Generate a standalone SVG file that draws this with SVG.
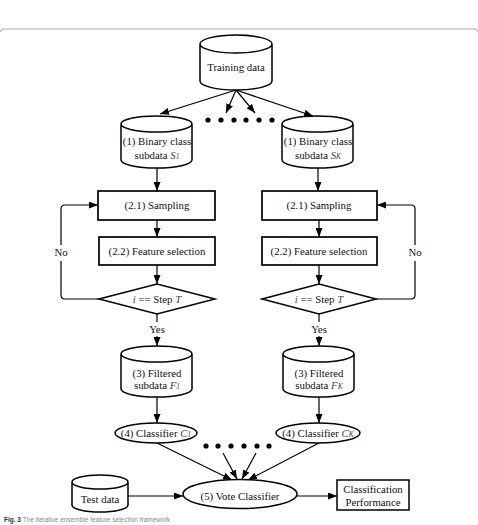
<svg xmlns="http://www.w3.org/2000/svg" width="478" height="525" viewBox="0 0 478 525">
<defs>
<marker id="ah" markerUnits="userSpaceOnUse" markerWidth="9" markerHeight="7" refX="9" refY="3.5" orient="auto">
<path d="M0,0 L9,3.5 L0,7 z" fill="#000"/>
</marker>
<style>
.t{font-family:"Liberation Serif","Times New Roman",serif;font-size:10.8px;fill:#111;text-anchor:middle}
.i{font-style:italic;fill:#444}
.sub{font-size:7.5px;font-style:italic;fill:#444}
.shape{fill:#fff;stroke:#000;stroke-width:1.5}
.box{fill:#fff;stroke:#000;stroke-width:1.7}
.c{fill:none;stroke:#000;stroke-width:1.2}
.ca{fill:none;stroke:#000;stroke-width:1.2;marker-end:url(#ah)}
.dot{fill:#000}
</style>
</defs>
<rect width="478" height="525" fill="#fff"/>
<path d="M0.5,32 Q0.5,29 3,29 L475,29 Q477.5,29 477.5,32" fill="none" stroke="#aaa" stroke-width="1"/>

<g id="connectors">
<line class="ca" x1="236" y1="90" x2="160" y2="114"/>
<line class="ca" x1="236" y1="90" x2="226" y2="113"/>
<line class="ca" x1="236" y1="90" x2="255" y2="113"/>
<line class="ca" x1="236" y1="90" x2="313" y2="116"/>
<line class="ca" x1="157" y1="168" x2="157" y2="191"/>
<line class="ca" x1="318" y1="168" x2="318" y2="191"/>
<line class="ca" x1="157" y1="220" x2="157" y2="237"/>
<line class="ca" x1="319" y1="220" x2="319" y2="237"/>
<line class="ca" x1="157" y1="265" x2="157" y2="284"/>
<line class="ca" x1="319" y1="265" x2="319" y2="284"/>
<path class="c" d="M99,299 L65,299 Q61,299 61,295 L61,261"/>
<path class="ca" d="M61,245 L61,209 Q61,205 65,205 L98,205"/>
<path class="c" d="M376,299 L411,299 Q415,299 415,295 L415,261"/>
<path class="ca" d="M415,245 L415,209 Q415,205 411,205 L377,205"/>
<line class="c" x1="157" y1="314" x2="157" y2="322"/>
<line class="ca" x1="157" y1="336" x2="157" y2="346"/>
<line class="c" x1="319" y1="314" x2="319" y2="322"/>
<line class="ca" x1="319" y1="336" x2="319" y2="346"/>
<line class="ca" x1="157" y1="397" x2="157" y2="423"/>
<line class="ca" x1="319" y1="397" x2="319" y2="423"/>
<line class="ca" x1="157" y1="443" x2="232" y2="480"/>
<line class="ca" x1="223" y1="453" x2="237" y2="479"/>
<line class="ca" x1="256" y1="453" x2="242" y2="479"/>
<line class="ca" x1="319" y1="443" x2="248" y2="480"/>
<line class="ca" x1="128" y1="496" x2="183" y2="496"/>
<line class="ca" x1="297" y1="496" x2="337" y2="496"/>
</g>

<g id="dots-top">
<circle class="dot" cx="208" cy="120" r="2.6"/>
<circle class="dot" cx="221" cy="120" r="2.6"/>
<circle class="dot" cx="234" cy="120" r="2.6"/>
<circle class="dot" cx="246" cy="120" r="2.6"/>
<circle class="dot" cx="259" cy="120" r="2.6"/>
<circle class="dot" cx="272" cy="120" r="2.6"/>
</g>
<g id="dots-bottom">
<circle class="dot" cx="206" cy="446" r="2.6"/>
<circle class="dot" cx="218" cy="446" r="2.6"/>
<circle class="dot" cx="231" cy="446" r="2.6"/>
<circle class="dot" cx="244" cy="446" r="2.6"/>
<circle class="dot" cx="257" cy="446" r="2.6"/>
<circle class="dot" cx="269" cy="446" r="2.6"/>
</g>

<g id="training-data">
<path class="shape" d="M200,44 A36,9 0 0 1 272,44 L272,81 A36,9 0 0 1 200,81 Z M200,44 A36,9 0 0 0 272,44"/>
<text class="t" x="236" y="71">Training data</text>
</g>

<g id="binary-s1">
<path class="shape" d="M121,124 A35.5,8 0 0 1 192,124 L192,160 A35.5,8 0 0 1 121,160 Z M121,124 A35.5,8 0 0 0 192,124"/>
<text class="t" x="157" y="145">(1) Binary class</text>
<text class="t" x="157" y="159">subdata <tspan class="i">S</tspan><tspan class="sub">1</tspan></text>
</g>

<g id="binary-sk">
<path class="shape" d="M282,124 A35.5,8 0 0 1 353,124 L353,160 A35.5,8 0 0 1 282,160 Z M282,124 A35.5,8 0 0 0 353,124"/>
<text class="t" x="318" y="145">(1) Binary class</text>
<text class="t" x="318" y="159">subdata <tspan class="i">S</tspan><tspan class="sub">K</tspan></text>
</g>

<g id="sampling-1">
<rect class="box" x="98" y="191" width="117" height="29"/>
<text class="t" x="157" y="209">(2.1) Sampling</text>
</g>
<g id="sampling-k">
<rect class="box" x="262" y="191" width="115" height="29"/>
<text class="t" x="319" y="209">(2.1) Sampling</text>
</g>

<g id="feature-1">
<rect class="box" x="99" y="237" width="116" height="28"/>
<text class="t" x="157" y="255">(2.2) Feature selection</text>
</g>
<g id="feature-k">
<rect class="box" x="262" y="237" width="115" height="28"/>
<text class="t" x="319" y="255">(2.2) Feature selection</text>
</g>

<g id="decision-1">
<path class="shape" d="M99,299 L157,284 L215,299 L157,314 Z"/>
<text class="t" x="157" y="303"><tspan class="i">i</tspan> == Step <tspan class="i">T</tspan></text>
</g>
<g id="decision-k">
<path class="shape" d="M262,299 L319,284 L376,299 L319,314 Z"/>
<text class="t" x="319" y="303"><tspan class="i">i</tspan> == Step <tspan class="i">T</tspan></text>
</g>

<g id="labels">
<text class="t" x="61" y="256">No</text>
<text class="t" x="415" y="256">No</text>
<text class="t" x="157" y="333">Yes</text>
<text class="t" x="319" y="333">Yes</text>
</g>

<g id="filtered-f1">
<path class="shape" d="M121,354 A35.5,8 0 0 1 192,354 L192,389 A35.5,8 0 0 1 121,389 Z M121,354 A35.5,8 0 0 0 192,354"/>
<text class="t" x="157" y="377">(3) Filtered</text>
<text class="t" x="157" y="389">subdata <tspan class="i">F</tspan><tspan class="sub">1</tspan></text>
</g>
<g id="filtered-fk">
<path class="shape" d="M283,354 A35.5,8 0 0 1 354,354 L354,389 A35.5,8 0 0 1 283,389 Z M283,354 A35.5,8 0 0 0 354,354"/>
<text class="t" x="319" y="377">(3) Filtered</text>
<text class="t" x="319" y="389">subdata <tspan class="i">F</tspan><tspan class="sub">K</tspan></text>
</g>

<g id="classifier-c1">
<ellipse class="shape" cx="156" cy="433" rx="41" ry="10"/>
<text class="t" x="156" y="437">(4) Classifier <tspan class="i">C</tspan><tspan class="sub">1</tspan></text>
</g>
<g id="classifier-ck">
<ellipse class="shape" cx="318" cy="433" rx="42" ry="10"/>
<text class="t" x="318" y="437">(4) Classifier <tspan class="i">C</tspan><tspan class="sub">K</tspan></text>
</g>

<g id="test-data">
<path class="shape" d="M72,482 A28,7 0 0 1 128,482 L128,505 A28,7 0 0 1 72,505 Z M72,482 A28,7 0 0 0 128,482"/>
<text class="t" x="100" y="503">Test data</text>
</g>

<g id="vote-classifier">
<ellipse class="shape" cx="240" cy="494" rx="57" ry="14.5"/>
<text class="t" x="240" y="500">(5) Vote Classifier</text>
</g>

<g id="performance">
<rect class="shape" x="337" y="480" width="72" height="30"/>
<text class="t" x="373" y="493">Classification</text>
<text class="t" x="373" y="506">Performance</text>
</g>

<text x="4" y="522" font-family="Liberation Sans, Arial, sans-serif" font-size="6.5" fill="#888"><tspan font-weight="bold" fill="#333">Fig. 3</tspan> The iterative ensemble feature selection framework</text>
</svg>
